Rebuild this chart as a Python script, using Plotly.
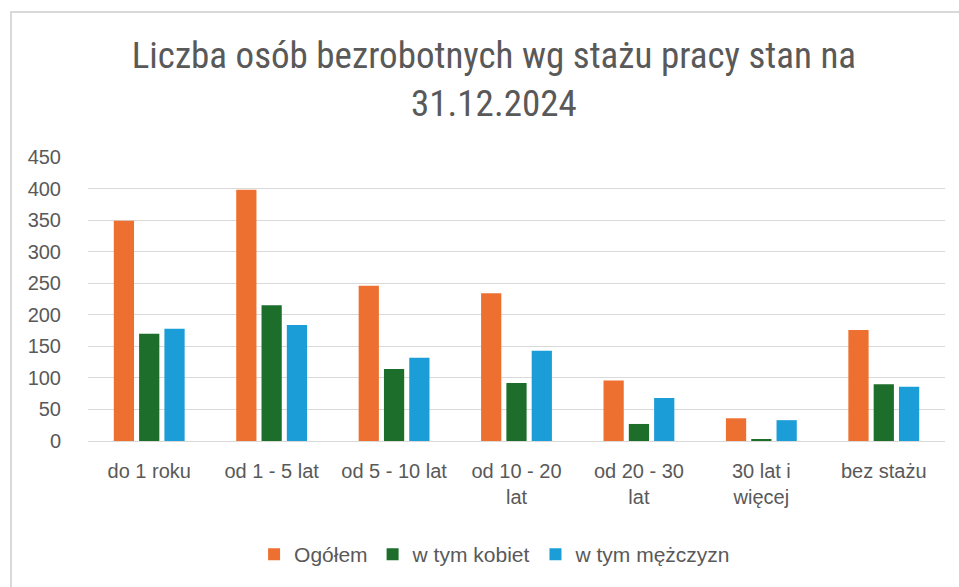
import plotly.graph_objects as go

categories = ["do 1 roku", "od 1 - 5 lat", "od 5 - 10 lat", "od 10 - 20<br>lat",
              "od 20 - 30<br>lat", "30 lat i<br>więcej", "bez stażu"]
ogolem = [349, 398, 246, 234, 96, 36, 176]
kobiety = [170, 215, 114, 92, 27, 3, 90]
mezczyzni = [178, 184, 132, 143, 68, 33, 86]
series_names = ["Ogółem", "w tym kobiet", "w tym mężczyzn"]
colors = ["#ED7030", "#1E6E2B", "#1B9ED8"]
y_ticks = [0, 50, 100, 150, 200, 250, 300, 350, 400, 450]

fig = go.Figure()
for name, vals, col in zip(series_names, [ogolem, kobiety, mezczyzni], colors):
    fig.add_trace(go.Bar(x=categories, y=vals, name=name, marker_color=col,
                         marker_line_width=0))

tick_font = dict(family="Liberation Sans, Arial, sans-serif", size=20, color="#595959")

fig.update_layout(
    width=959, height=587,
    paper_bgcolor="white", plot_bgcolor="white",
    margin=dict(l=88, r=14, t=157, b=146),
    barmode="group", bargap=0.38, bargroupgap=0.2,
    title=dict(text="Liczba osób bezrobotnych wg stażu pracy stan na<br>31.12.2024",
               x=0.515, xanchor="center", y=0.885, yanchor="middle",
               font=dict(family="Liberation Sans Narrow, Arial Narrow, Roboto Condensed, sans-serif",
                         size=37, color="#595959")),
    legend=dict(orientation="h", x=0.475, xanchor="center", y=-0.40, yanchor="middle",
                font=dict(family="Liberation Sans, Arial, sans-serif", size=21, color="#595959"),
                itemwidth=30, traceorder="normal"),
    showlegend=True,
)
fig.update_yaxes(range=[0, 450], tickvals=y_ticks, showgrid=True, gridcolor="#D9D9D9",
                 gridwidth=1, zeroline=False, showline=False, tickfont=tick_font,
                 ticks="outside", ticklen=22, tickcolor="rgba(0,0,0,0)", fixedrange=True)
fig.update_xaxes(showline=True, linecolor="#D9D9D9", linewidth=1, tickfont=tick_font,
                 ticks="outside", ticklen=12, tickcolor="rgba(0,0,0,0)", fixedrange=True)

# chart border
fig.add_shape(type="path", xref="paper", yref="paper",
              path="M -0.0898 -0.6 L -0.0898 1.5106 L 1.2 1.5106",
              line=dict(color="#D9D9D9", width=2))

fig.write_html("out.html", config={"displayModeBar": False})

with open("out.html", encoding="utf-8") as f:
    html = f.read()
html = html.replace("<body>", '<body style="margin:0;padding:0">', 1)
with open("out.html", "w", encoding="utf-8") as f:
    f.write(html)
